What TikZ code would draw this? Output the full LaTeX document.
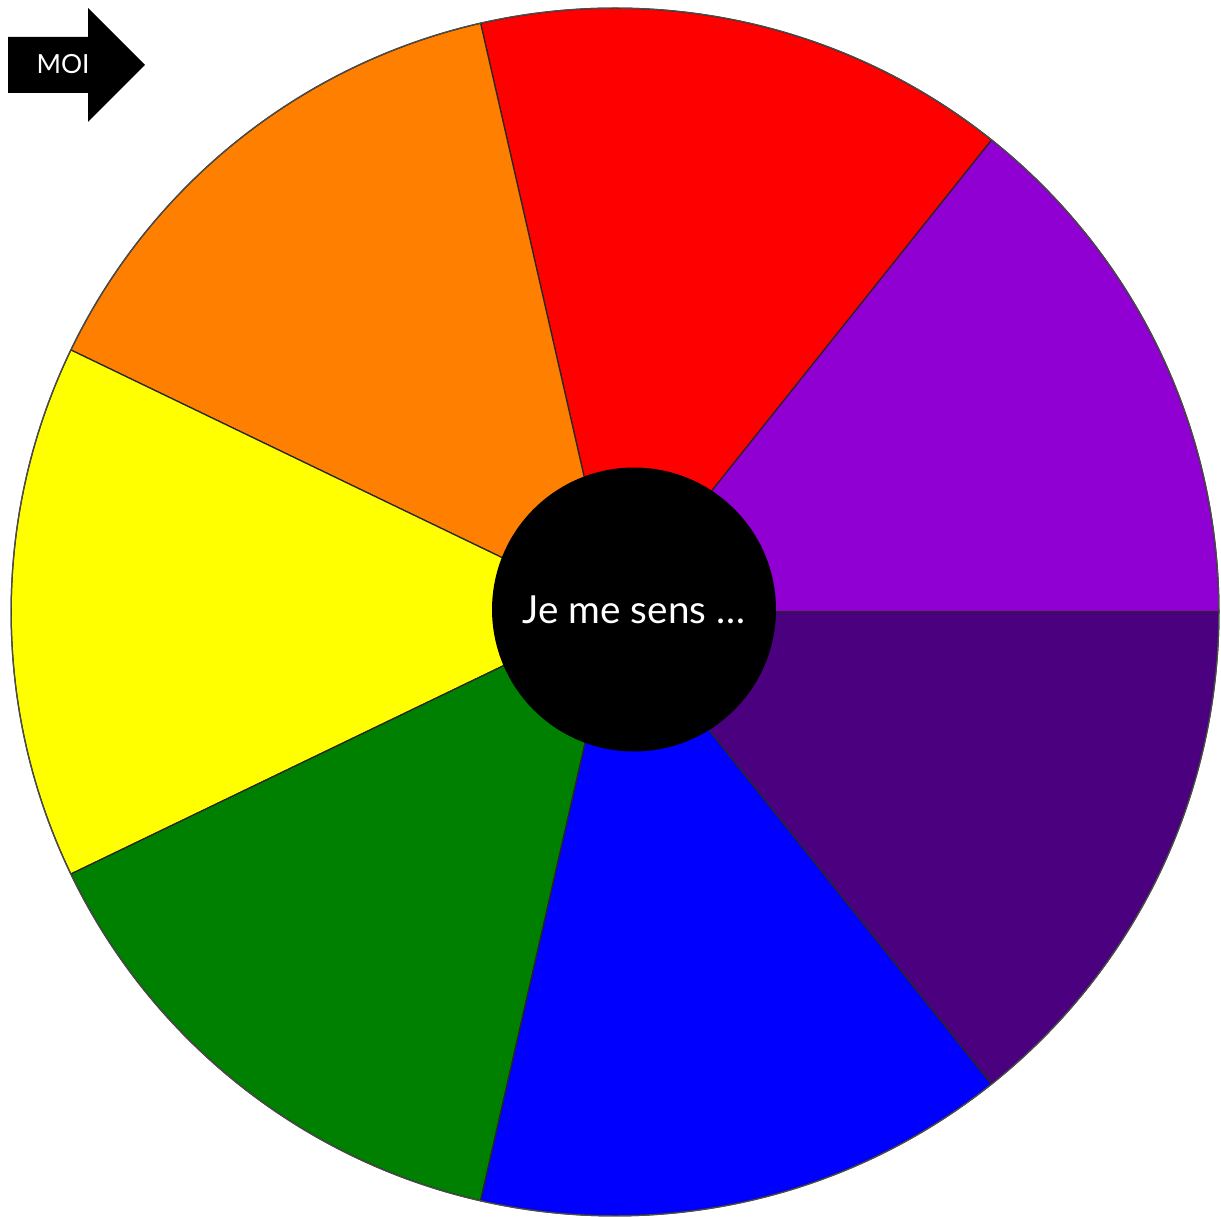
\documentclass[tikz,border=0pt]{standalone}
\usepackage{fontspec}
\setmainfont{Lato}
\usepackage{xcolor}
\usetikzlibrary{calc}
\definecolor{wpurple}{HTML}{9100D2}
\definecolor{wred}{HTML}{FF0000}
\definecolor{worange}{HTML}{FF8000}
\definecolor{wyellow}{HTML}{FFFF00}
\definecolor{wgreen}{HTML}{008000}
\definecolor{wblue}{HTML}{0000FF}
\definecolor{windigo}{HTML}{4B0080}

\begin{document}
\begin{tikzpicture}[x=0.02cm,y=0.02cm,
  slice/.style={draw=black!85,line width=0.7pt,line join=round},
  hub/.style={circle,fill=black,minimum size=5.68cm,inner sep=0pt,text=white,font=\fontsize{22}{26}\selectfont},
  tag/.style={text=white,font=\fontsize{15}{18}\selectfont}]
\useasboundingbox (0,0) rectangle (1221,1217);
\coordinate (w) at (615,605);
% wheel
\foreach \i/\c in {0/wpurple,1/wred,2/worange,3/wyellow,4/wgreen,5/wblue,6/windigo}{
  \pgfmathsetmacro\a{\i*360/7}
  \filldraw[slice,fill=\c] (w) -- ++(\a:12.08cm) arc[start angle=\a,delta angle=360/7,radius=12.08cm] -- cycle;
}
\draw[draw=black!70,line width=0.7pt] (w) circle[radius=12.08cm];
\node[hub] (hub) at (634,607.5) {Je me sens \dots};
% arrow
\fill[black] (8,1180) -- (88,1180) -- (88,1209) -- (145,1152) -- (88,1095) -- (88,1124) -- (8,1124) -- cycle;
\node[tag] (moi) at (63,1153) {MOI};
\end{tikzpicture}
\end{document}
